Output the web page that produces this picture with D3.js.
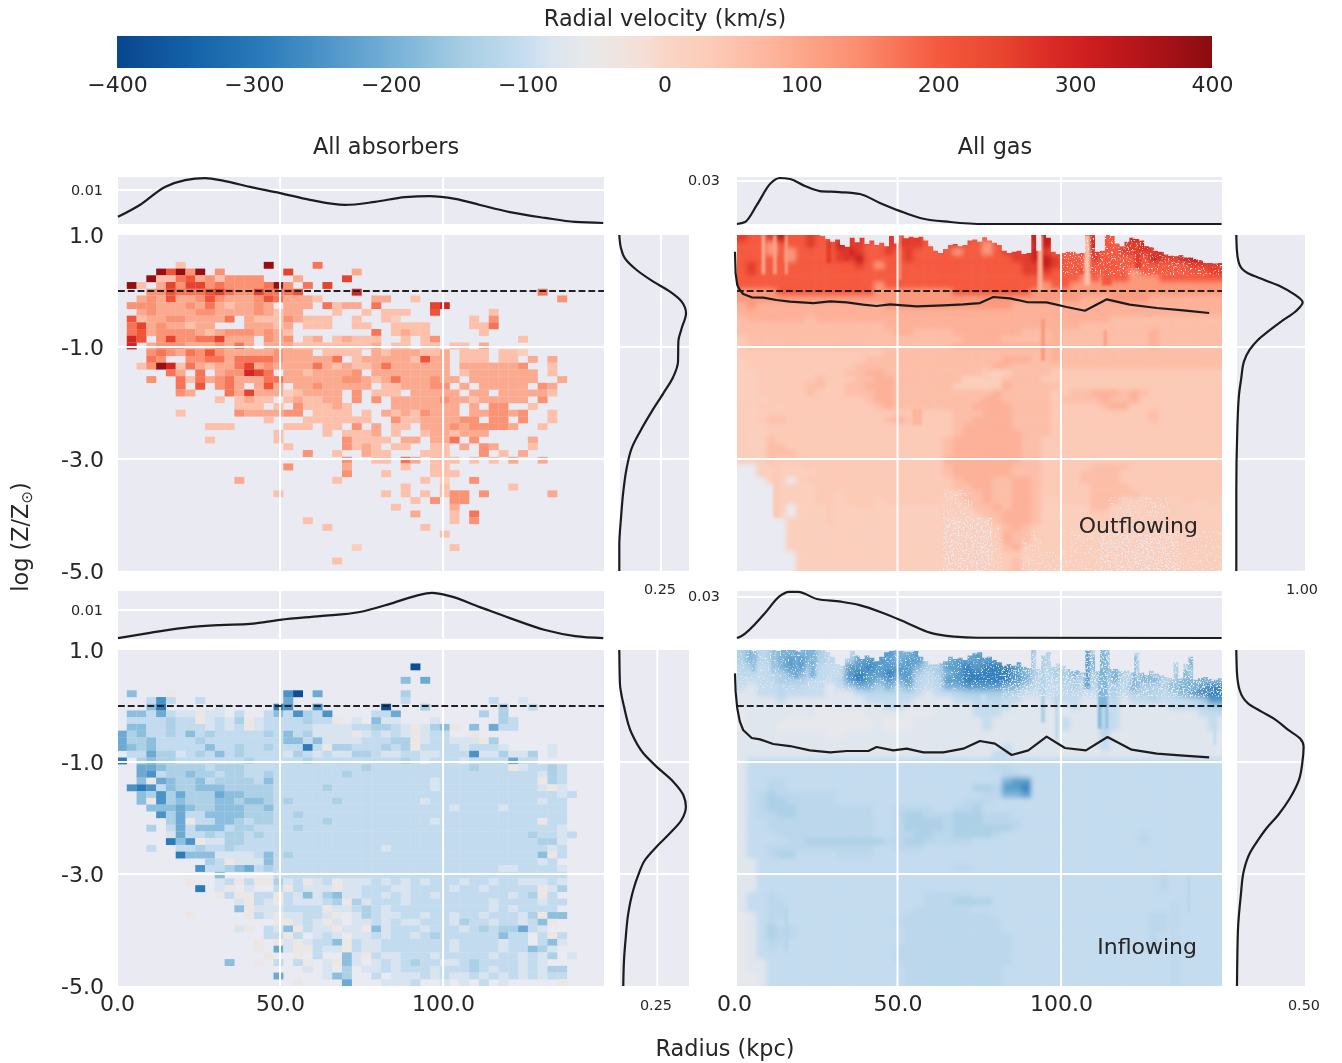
<!DOCTYPE html>
<html><head><meta charset="utf-8">
<script src="https://cdn.jsdelivr.net/npm/d3@7"></script>
<style>html,body{margin:0;padding:0;background:#fff}svg{display:block;font-family:"DejaVu Sans",sans-serif;filter:blur(.35px)}</style>
</head><body><svg id="c" width="1342" height="1063"></svg>
<script>
/* colour bar */
const stopValues=[-400,-343,-294,-245,-196,-148,-116,-100,-83,-60,-45,-15,0,31,77,100,140,200,244,280,309,350,400];
const stopColors=["#08468f","#1563a9","#2b7bba","#4f96c9","#78b2d8","#a6cde4","#bcd8ec","#c8def0","#dae5ef","#e6e8ec","#ece7e5","#f5dfd6","#f9d5c6","#fcccb8","#fdb59d","#fca78b","#fb8f70","#f5593e","#e8472f","#dc2c26","#cf1e1f","#b31419","#8a0c10"];
const colorbarTicks=[-400,-300,-200,-100,0,100,200,300,400];
/* log-Z and radius ticks */
const radiusTicks=[0,50,100];
const metalTicks=[1,-1,-3,-5];
const metalGrid=[-1,-3];
/* velocity (km/s) of each level digit */
const absOutLevels=[null,20,55,95,135,170,215,250,295,385];
const absInLevels=[null,-45,-85,-108,-140,-175,-210,-250,-295,-385];
const gasOutLevels=[null,25,25,22,35,60,85,125,200,260,320];
const gasInLevels=[null,-45,-58,-72,-105,-118,-140,-195,-235,-285];
/* absorber cells: one string per row (3 kpc × 0.12 dex bins), "startColumn:levels" */
const absOutRows=["","","","",
"6:2 15:9 20:5",
"4:96949 10:4 17:7 24:3",
"3:922563424444 18:3 23:7",
"1:920374774544445940507",
"3:4465556754475556 24:8 43:5",
"2:3436334643334653 17:3332 26:33 30:2 45:4",
"1:444333435323343 17:333 21:5233 26:5 32:78",
"2:34333344333344 15:32 17:33 22:2 25:2 27:222 32:6 38:2",
"1:623344333350322 16:2432 20:22 24:2 27:21 36:2 38:4",
"1:573433233 13:3332 17:3 19:222 24:22 28:2222 36:225",
"1:56344443234 12:44 14:3432 26:5 28:232 31:2 37:2",
"1:86 4:474455733 13:3 15:434 19:23 22:2322 26:2 29:2 31:24 41:2",
"1:8 3:344433343 12:53 15:333222222223 28:22 31:22 34:22 37:3",
"3:4543546 10:4333334333 20:0222203233 30:3223022202 40:21",
"3:54 7:445 10:5355554333 20:3350233333 30:2633022202 40:20303",
"2:24982532 10:3357343333 20:5323223533 30:3333033333 40:34002",
"5:53 8:5 10:3448750332 20:3333403333 30:3333023333 40:33302",
"3:4 6:5253 10:4533355333 20:3334432353 30:3343303333 40:333003",
"6:5 8:6 10:4530363033 20:4333330223 30:3344030333 40:33043",
"6:43 10:0537333123 20:3330402220 30:3333303303 40:33332",
"10:2 12:2322 17:2322 21:33 24:4 26:4 28:333334 34:3323 38:3333 43:4",
"12:222 16:2 18:422 21:232 28:3333333 36:3 38:44 42:2",
"6:2 12:433334 18:4 20:2222 25:2 27:3232 31:4333 36:3344 40:34 44:2",
"15:2 19:2222222 28:42233 33:3344 38:44 41:4 44:2",
"9:222 17:222 21:22 24:4 26:3 28:22 31:333433 36:44443 43:2",
"16:2 21:2 23:2223 28:2 31:2332333",
"9:2 16:2 23:42222 29:33 32:335 36:4 42:3",
"17:2 23:4232 28:22 32:22 35:3 37:43 42:2",
"19:4 22:2 25:322 31:222 37:4 39:2 41:3",
"23:4 26:22 29:53 32:222 36:2 38:2 40:3 43:3",
"17:4 23:3 29:2 32:22",
"23:4 27:2 32:222",
"12:3 22:2 31:2 33:1 36:4",
"29:2 33:2 40:2",
"16:2 27:2 29:2 31:2 33:2 34:44 37:4 44:3",
"30:2 32:4 34:44",
"28:2 34:3",
"30:3 34:2 36:5",
"19:2 34:2 36:4",
"21:2 31:2",
"33:2",
"",
"24:1 34:2",
"",
"22:2",
""];
const absInRows=["","",
"30:9","",
"29:506","",
"1:5 5:1 17:79 20:6 29:4",
"3:373 8:3 17:6 29:3 38:3 41:2",
"3:58 10:2 16:87 20:7 27:9 31:4 39:4 42:3",
"1:553632212203003537437 26:336 37:404",
"1:3333433123241233334331 24:2 26:522 32:2 39:43",
"1:5533433323231233333222233443212451 36:5 38:633",
"0:6453343534333334353422221232321233 36:1",
"0:644533334333333335535222233344123322214",
"0:6545333335334334333831443334341333323332 44:2",
"1:336442343534333324323224432233223337224224 44:2",
"0:8 2:45443333333433333433333333343233323333633",
"2:66544443 10:4443333333 20:3333343333 30:3333334333 40:123343",
"2:67344544 10:3443343333 20:3334333333 30:3333333333 40:333243",
"2:51654453 10:4444353333 20:3333333333 30:3323333333 40:333143",
"1:787354455 10:5444443333 20:3433333333 30:3323333333 40:333212",
"2:54746444 10:6554443333 20:3333333333 30:3333333333 40:3333323",
"2:51745444 10:5545543433 20:3343333333 30:3233333333 40:333233",
"3:5556544 10:5554453333 20:3333333333 30:3333233332 40:333333",
"4:746335 10:5554443343 20:3333333333 30:3333333333 40:333333",
"5:46133 10:5543443333 20:3433333333 30:3323333333 40:333133",
"3:4 5:36355 10:5344333343 20:3333333333 30:3333333333 40:333332",
"5:26334 10:3443433333 20:3333333333 30:3333333333 40:33433 45:23",
"5:85712 10:2443333333 20:3333333333 30:3333333333 40:333442",
"3:3 6:3343 10:3433333333 20:3333333233 30:3333333333 40:333323",
"6:8555 10:2222353433 20:3333333333 30:3333333333 40:333513",
"9:4 10:3122253333 20:3333333333 30:3333333333 40:33323",
"8:73 10:3456343333 20:3333333333 30:3333333332 40:23333 45:2",
"10:5 16:3333 20:3333333333 30:3333333333 40:333333",
"7:1 10:2313114231 20:2312223232 30:3233323323 40:322232",
"8:8 10:21 13:2 16:3132 20:2212233322 30:3333233233 40:333124",
"10:1311331325 20:2452233232 30:3323333333 40:23413",
"12:2132 16:1322 20:2341423332 30:3333333323 40:333233",
"12:51222333 20:3122343233 30:3333333323 40:23333",
"7:1 13:1321223 20:3210243223 30:3233233233 40:324155",
"16:11 18:23 20:2120223232 30:2333243323 40:323510",
"12:21 15:32513 20:2212215233 30:3233323434 40:463 43:2",
"15:3313 20:2320223233 30:2343333335 40:33 43:313",
"14:1 16:1212 20:3351322333 30:3333233332 40:33 43:352",
"14:1 16:6211 20:3221322333 30:3333233332 40:33542",
"15:1 18:1 20:3 23:5213223 30:3323333323 40:3232 44:4 46:2",
"11:5 14:1 16:3 18:31 21:21 23:52 26:2323 30:4332234333 40:3232",
"19:2 21:2 23:4 25:22323 30:3323334323 40:3232 44:44",
"16:6 21:2 22:54 26:3 28:22 30:2323223232 40:323233",
"18:1 23:6 27:222 30:3 33:2 35:2 37:3 39:2 45:1"];
/* gas fields: one string per row, one digit per 3 kpc column */
const gasOutRows=[
"9889a88988 9999899998 8999888999 aaa8aa9889 a9999aaaaa",
"8887888988 a998899998 8898878898 aa9889aa89 9a99aaaaaa",
"8887878888 9a98898988 8878878999 a988899889 999aaaaaaa",
"8888878888 99a8888988 8888888899 aa98889888 88a99aaa9a",
"8988888888 8898788888 8888888889 9a98888888 8888889999",
"8988888888 8888888888 8888888889 9988898888 7888888899",
"8888888888 8888888888 8888888888 8888878788 7778888888",
"8888888888 8888788888 8888888888 8788777777 7777777777",
"7777888888 8888777777 7788888888 7777777777 7777777777",
"7777777777 7777777777 7777777777 7777766677 7766666666",
"6766666666 6666677777 7777777766 6666666666 6666666666",
"6666666666 6666666666 6666666666 6666666666 6666666666",
"5666666566 6666666666 6666666666 6666666655 5555555555",
"5555555555 5555566666 6666666666 6666655555 5555555555",
"5555555555 5555556655 5566666665 5565555555 5565555555",
"4555555555 5555555555 5556666555 5565555555 5565555555",
"4555555555 5555555555 5566666666 6665555555 5565555555",
"4444444444 4444455555 5555555555 5565555555 5555555555",
"3444444444 4445555555 5555555666 5565555555 5555555555",
"3444444444 4455555555 5555556655 5555555555 5555555555",
"3344444444 4556655555 5555543355 5544444444 4444444444",
"3344444454 4455665555 5553333555 5444444444 4444444444",
"3344444554 4556665555 5533333655 5554444444 4444444444",
"3344444544 4555665555 5555556555 5544556665 6544444444",
"3334444444 4445665555 5555566555 5545555655 6444444444",
"2344344444 4444565555 5555666655 5544444566 4444444444",
"2334444444 4444444444 4455566655 5544444444 4454444444",
"2345544444 4444456544 4455666655 5544444444 4454444444",
"2334444444 4444444444 4456666655 5544444444 4444444444",
"2334444444 4444444444 4456666665 5544444444 4444444444",
"2335444444 4444444444 4566666665 5444444444 4444444444",
"2335544444 4444444444 4566666665 5444444444 4444444444",
"2335554444 4444444444 4566666665 5444444444 4444444444",
"2235444444 4444444444 4666666665 5444444444 4444444444",
"0023333444 4444444444 4566666655 5444445555 4444444444",
"0013333344 4444444444 4566666655 5444455554 4444444444",
"0003303444 4444444444 4456665566 5444455554 4444444444",
"0000333344 4444444444 4455665566 5444445555 4444444444",
"0000333344 3444444444 4225565566 5444445555 5444444444",
"0000333344 3444344444 4125565566 5324445553 3344344343",
"0000303334 3334333333 3122556566 5333335533 3322223333",
"0000303334 3333333333 3122455666 5332334433 2222222333",
"0000033334 3333333333 3121245666 5233343433 2222222233",
"0000033333 3333333333 3112234565 4223333322 2222112223",
"0000033333 3333333333 3112224655 4223333222 1111111122",
"0000033333 3333333333 3111224655 3222322222 1111111122",
"0000033333 3333333333 3111223563 2223322222 1111111112",
"0000003333 3333333333 3111122443 2223222211 1121111112",
"0000003333 3333333333 3111112452 2223222211 1111111111",
"0000003333 3333333333 3111111451 2223222111 1111111111"];
const gasInRows=[
"6756777765 4477887787 7777888887 6656766576 4766657644",
"6756788765 4688887886 7788888887 5656767576 4766657644",
"5645788654 4889888876 6889899987 5566767676 4766657644",
"5545677554 4898898865 6789999987 6566756676 4767676755",
"4445666544 5898787854 5889999987 5556656575 6775677777",
"4344555443 4677676754 5778888776 5445645565 7666777899",
"3344544443 3345555543 4456666654 4445544565 6665678999",
"3333433333 3334444433 3344555443 3344433453 4454445688",
"3333333323 3333344333 3333444433 3333433443 3333444566",
"2333333322 2223333222 3333444333 3333333443 3333333444",
"2333322222 2222322233 3333343333 3334333543 3333333343",
"2333222222 2222322233 3333343333 3334333543 3333333343",
"3333333332 2333333333 3333333333 3333333533 3333333333",
"3333333333 3333333333 3333333333 3333333433 3333333333",
"3333333333 3333333333 3333333433 3333333433 3333333333",
"3333333333 3333333333 3333334433 3333333333 3333333333",
"3444444444 4444444444 4444444444 4444444444 4444444444",
"3444444444 4444444444 4444445544 4444444444 4444444444",
"3444444444 4444444444 4444444554 4444444444 4444444444",
"3445544444 4444444444 4444444788 4444444444 4444444444",
"3445544444 4444444444 4444665889 4444444444 4444444444",
"3456555555 4444444444 4444455778 4444444444 4444444444",
"3456655555 4444444444 4445554444 4444444444 4444444444",
"3456665555 5555445555 4455644444 4444444444 4444444444",
"3455665555 5555445665 5566655544 4444444444 4444444444",
"3445555555 5555445666 6566655554 4444444444 4444444444",
"3445555555 5555445666 6566666654 4444444444 4444444444",
"3444555555 5555445566 5566665444 4444444444 4544444444",
"3444455666 6666655665 5555444444 4444444444 4544444444",
"3445555555 5555445554 4444444444 4444444444 4444444444",
"3445664444 5555444444 4444444444 4444444444 4444444444",
"3344444444 4444444444 4444444444 4444444444 4444444444",
"3344444444 4444444444 4455444444 4444444444 4444444444",
"3344444444 4444444444 4444444444 4444444444 4445444444",
"3344444444 4444444444 4444444444 4444444444 4445444444",
"3344444444 4444444444 4444444444 4444444444 4445444444",
"3445444444 4444444445 5555444444 4444444444 4444444444",
"3445544444 4444444445 5566664444 4444444444 4444444444",
"3445544444 4444444455 5555444444 4444444444 4444444444",
"2345544444 4444444555 5555554444 4444444444 4455444444",
"2345444444 4444445555 5555555444 4444444444 4455444444",
"2346554444 4444444555 5555555444 4444444444 4455444444",
"2346554444 4444444555 5555555544 4444444444 4454444444",
"2345544444 4444444555 5555555544 4444444444 4454444444",
"2345444444 4444445555 5555555544 4444444444 4454444444",
"2344444444 4444445555 5555555544 4444444444 4444444444",
"2334444444 4444445555 5555555544 4444444444 4444444444",
"2334444444 4444444555 5555555444 4444444444 4444444444",
"2234444444 4444444555 5555555444 4444444444 4444444444",
"2234444444 4444444555 5555555444 4444444444 4444444444"];
/* upper edge of the gas distribution, log Z per 1.5 kpc */
const gasOutTop=[1,1,1,1,1,1,1,1,1,1,1,1,1,1,1,1,1,.98,.93,.88,.92,.82,.79,.95,.87,.95,.84,.9,.82,.86,.8,.98,.85,.99,.94,.97,.95,.97,.9,.8,.72,.68,.75,.82,.84,.8,.82,.9,.92,.88,.96,.9,.86,.82,.72,.68,.7,.72,.66,.68,1,.72,1,.95,.7,.66,.68,.7,.7,.67,.68,1,1,.7,.72,1,.98,.85,.8,.88,.95,.93,.9,.8,.78,.72,.7,.65,.63,.62,.64,.6,.6,.57,.55,.5,.5,.49,.5,.66];
const gasInTop=[1,1,1,.98,1,1,1,1,.98,1,1,1,.98,1,1,1,1,1,.96,.88,.75,.72,.85,.98,.9,.84,.9,.86,.8,.88,.96,.98,.99,.98,.97,.97,.98,.88,.8,.74,.74,.76,.8,.88,.84,.86,.82,.9,.94,.96,.86,.88,.82,.78,.72,.75,.72,.78,.7,.68,1,.66,.9,.96,.7,.76,.72,.66,.62,.64,.6,1,1,.62,1,1,.66,.66,.62,.64,.6,.96,.6,.55,.63,.58,.55,.52,.5,.78,.5,.75,.88,.47,.5,.52,.48,.47,.5,.58];
/* thin vertical features of the gas fields: radius, top log Z, bottom log Z, width (kpc), km/s */
const gasOutStreaks=[[93.6,1,0,1.6,85],[94.5,-.5,-1.25,1.2,125],[108,1,.1,1.8,60],[114,1,.1,3,200],[113.5,-.7,-1,.8,125],[123.6,.9,.4,2,260],[9,1,.3,1,85],[12.5,1,.3,1,100],[16,1,.3,.8,100],[50.8,1,.2,.5,100],[29,.9,.5,1.5,260],[34.5,.75,.55,2,270],[13,-3,-4.05,2,35],[56,-2.1,-2.4,3,75]];
const gasInStreaks=[[108,1,.3,1.6,-230],[112.8,1,-.4,3,-190],[113,0,-.4,1.5,-125],[122.4,.9,.3,1.2,-190],[98.7,.5,-.6,.8,-125],[91,1,.5,.5,-170],[94.5,1,-.3,1.2,-140],[76.3,.2,-.2,1.5,-105],[19,1,.5,1.5,-210],[24,1,.5,2,-190],[6,1,.6,1,-170],[12,1,.6,1,-170],[139,-3,-3.7,.8,-125],[135,-3.5,-5,3,-112],[147,-.3,-.7,.8,-110],[122,-2,-2.9,.8,-105],[109,-1.4,-2.9,.8,-105],[16,-3.6,-4.4,1,-125]];
/* speckled (partly empty) parts of the gas fields: first row, last row, first column, last column, dense? */
const gasOutSpeckle=[[42,49,21,25,1],[38,41,21,23,0],[43,49,26,26,0],[44,49,29,30,0],[44,49,37,44,1],[39,43,38,43,0],[44,49,34,36,0],[44,49,45,49,0],[47,49,31,33,0],[0,5,33,49,0]];
const gasInSpeckle=[[0,6,27,49,1],[0,5,0,26,0]];
/* running mean metallicity of the gas */
const meanOutR=[.3,.5,1,1.8,2.8,5.4,8.97,13,17.1,24.3,29.4,34.5,39.5,43.6,47.7,55.9,64,70.1,75.2,79.3,84.4,89.5,95.6,101.7,107.3,114,121,129.3,137.4,145.3];
const meanOutZ=[.7,.315,.107,.018,-.054,-.113,-.119,-.161,-.191,-.215,-.185,-.203,-.244,-.268,-.238,-.274,-.256,-.238,-.215,-.107,-.131,-.197,-.203,-.286,-.352,-.149,-.244,-.304,-.346,-.393];
const meanInR=[.3,.5,1,1.8,2.8,5.4,7.95,12,17.1,23.2,29.4,34.5,41.1,43.6,48.7,52.8,57.9,64,70.1,75.2,79.8,84.9,90,95.6,101.2,107.6,114.2,121.6,129.3,137.4,145.3];
const meanInZ=[.583,.256,-.042,-.28,-.429,-.572,-.596,-.679,-.715,-.792,-.828,-.804,-.804,-.732,-.792,-.762,-.828,-.828,-.762,-.625,-.673,-.875,-.792,-.548,-.75,-.792,-.554,-.78,-.851,-.887,-.917];
/* radius marginals */
const kdeAR=[.3,7,14.7,20.9,27,33.1,40.8,50,59.2,69.9,79.1,88.3,95.9,103.7,111.3,120.5,131.3,140.5,149.1];
const kdeAD=[.0021,.0056,.0109,.0129,.0135,.0126,.0109,.0091,.0071,.0056,.0065,.0079,.0082,.0074,.0056,.0035,.0018,.0006,.0003];
const kdeBR=[.9,3.4,7,11,14,17.1,21.7,26.2,32.3,38.5,44.6,50.8,56.9,66.1,76.8,149.1];
const kdeBD=[0,.0014,.0133,.0279,.0321,.0314,.0265,.023,.0223,.0209,.0147,.009,.0042,.0014,0,0];
const kdeCR=[.3,10.1,22.4,31.6,40.8,50,62.3,74.5,83.7,91.4,96.6,102.1,111.3,120.5,131.3,140.5,149.1];
const kdeCD=[.0003,.0021,.0041,.0048,.0052,.0066,.0079,.0093,.0121,.0148,.0159,.0148,.011,.0072,.0031,.001,.0003];
const kdeDR=[.9,2.3,9.5,13.8,16.8,19.6,25.4,32.7,38.4,45.6,52.9,59.9,67.3,74.5,149.1];
const kdeDD=[0,.0015,.0183,.0302,.0337,.0337,.0285,.0266,.0241,.0183,.011,.0039,.001,.0002,0];
/* metallicity marginals */
const sideAZ=[1,.762,.583,.375,.167,-.012,-.19,-.398,-.666,-.904,-1.262,-1.53,-1.827,-2.154,-2.512,-2.809,-3.166,-3.583,-4.059,-4.535,-5];
const sideAD=[0,.01,.034,.104,.204,.304,.374,.4,.374,.354,.352,.324,.264,.194,.124,.074,.044,.024,.01,0,0];
const sideBZ=[1,.703,.465,.316,.197,.078,-.059,-.202,-.357,-.547,-.726,-.875,-1.053,-1.262,-1.559,-1.857,-2.512,-3.583,-5];
const sideBD=[0,.01,.048,.169,.41,.652,.845,.966,.87,.652,.459,.314,.193,.111,.072,.039,.014,0,0];
const sideCZ=[1,.405,-.011,-.488,-.845,-1.083,-1.351,-1.589,-1.797,-2.035,-2.273,-2.512,-2.75,-3.017,-3.285,-3.702,-4.178,-4.535,-5];
const sideCD=[0,.004,.031,.081,.158,.245,.355,.421,.438,.409,.333,.245,.169,.125,.092,.059,.041,.031,.026];
const sideDZ=[1,.584,.286,.048,-.101,-.238,-.428,-.577,-.726,-1.024,-1.321,-1.648,-1.946,-2.184,-2.392,-2.63,-2.928,-3.404,-4,-5];
const sideDD=[0,.005,.024,.085,.183,.281,.378,.463,.49,.48,.456,.39,.305,.22,.159,.098,.056,.032,.012,.005];

const BG="#e9eaf2",INK="#262626",FONT=22,TITLE=22.4;
const svg=d3.select("#c");
const color=d3.scaleLinear().domain(stopValues).range(stopColors).clamp(true);
const defs=svg.append("defs");
defs.append("filter").attr("id","soft").attr("x","-5%").attr("y","-5%").attr("width","110%").attr("height","110%")
  .append("feGaussianBlur").attr("stdDeviation",2.4);
defs.append("filter").attr("id","thin").attr("x","-50%").attr("width","200%")
  .append("feGaussianBlur").attr("stdDeviation",.8);
function speckFilter(id,offset){
  const f=defs.append("filter").attr("id",id).attr("x","0").attr("y","0").attr("width","100%").attr("height","100%")
    .attr("color-interpolation-filters","sRGB");
  f.append("feTurbulence").attr("type","fractalNoise").attr("baseFrequency",.6).attr("numOctaves",2).attr("seed",4).attr("result","n");
  f.append("feColorMatrix").attr("in","n").attr("type","matrix")
    .attr("values","0 0 0 0 0  0 0 0 0 0  0 0 0 0 0  0 0 0 6 "+offset).attr("result","m");
  f.append("feComposite").attr("in","SourceGraphic").attr("in2","m").attr("operator","in");
}
speckFilter("speckDense",-3);
speckFilter("speckSparse",-3.5);

/* colour bar */
const cb=d3.scaleLinear().domain([-400,400]).range([117,1212]);
const grad=defs.append("linearGradient").attr("id","cbg").attr("gradientUnits","userSpaceOnUse")
  .attr("x1",cb(-400)).attr("x2",cb(400)).attr("y1",0).attr("y2",0);
grad.selectAll("stop").data(stopValues).join("stop")
  .attr("offset",d=>(d+400)/800).attr("stop-color",d=>color(d));
svg.append("rect").attr("x",cb(-400)).attr("y",36).attr("width",cb(400)-cb(-400)).attr("height",32).attr("fill","url(#cbg)");
const cbAxis=svg.append("g").attr("transform","translate(0,71)")
  .call(d3.axisBottom(cb).tickValues(colorbarTicks).tickSize(0).tickPadding(5).tickFormat(d3.format("d")));
cbAxis.select(".domain").remove();
cbAxis.selectAll("text").attr("font-size",FONT).attr("font-family","DejaVu Sans").attr("fill",INK);

function label(x,y,t,size,anchor){
  return svg.append("text").attr("x",x).attr("y",y).text(t).attr("font-size",size||FONT)
    .attr("text-anchor",anchor||"middle").attr("fill",INK);
}
label(665,26,"Radial velocity (km/s)",TITLE);
label(386,154,"All absorbers",TITLE);
label(995,154,"All gas",TITLE);
label(725,1056,"Radius (kpc)",TITLE);
const yl=svg.append("text").attr("transform","translate(28,537) rotate(-90)").attr("text-anchor","middle")
  .attr("font-size",TITLE).attr("fill",INK);
yl.append("tspan").text("log (Z/Z");
yl.append("tspan").text("⊙").attr("font-size",15).attr("dy",4);
yl.append("tspan").text(")").attr("dy",-4);

const xLeft=d3.scaleLinear().domain([0,149.1]).range([117,603.2]);
const xRight=d3.scaleLinear().domain([0,149.1]).range([734,1221.6]);
const yTop=d3.scaleLinear().domain([1,-5]).range([235,571]);
const yBot=d3.scaleLinear().domain([1,-5]).range([650,986]);
const BIN_R=3,BIN_Z=.12,ROWS=50,COLS=50,GAS_R0=.9;

function parseSparse(rows){
  const out=[];
  rows.forEach((s,r)=>s.split(" ").filter(Boolean).forEach(t=>{
    const [c,ds]=t.split(":");
    [...ds].forEach((d,i)=>{ if(d!=="0") out.push({r,c:+c+i,l:+d}); });
  }));
  return out;
}
function parseDense(rows){
  const out=[];
  rows.forEach((s,r)=>[...s.replace(/ /g,"")].forEach((d,c)=>{
    const l=parseInt(d,36); if(l>0) out.push({r,c,l});
  }));
  return out;
}
function panelRect(x0,x1,y0,y1){
  svg.append("rect").attr("x",x0).attr("y",y0).attr("width",x1-x0).attr("height",y1-y0).attr("fill",BG);
}
let clipN=0;
function addClip(x0,x1,y0,y1){
  const id="clip"+(clipN++);
  defs.append("clipPath").attr("id",id).append("rect").attr("x",x0).attr("y",y0).attr("width",x1-x0).attr("height",y1-y0);
  return "url(#"+id+")";
}
function gridV(xs,vals,y0,y1){
  svg.append("g").selectAll("line").data(vals).join("line")
    .attr("x1",xs).attr("x2",xs).attr("y1",y0).attr("y2",y1).attr("stroke","#fff").attr("stroke-width",2);
}
function gridH(ys,vals,x0,x1){
  svg.append("g").selectAll("line").data(vals).join("line")
    .attr("y1",ys).attr("y2",ys).attr("x1",x0).attr("x2",x1).attr("stroke","#fff").attr("stroke-width",2);
}
function zeroLine(x0,x1,ys){
  svg.append("line").attr("x1",x0).attr("x2",x1).attr("y1",ys(0)).attr("y2",ys(0))
    .attr("stroke","#222").attr("stroke-width",2.2).attr("stroke-dasharray","6.8 3");
}
function curve(pts,xs,ys,kind){
  svg.append("path").datum(pts)
    .attr("d",d3.line().x(d=>xs(d[0])).y(d=>ys(d[1])).curve(kind))
    .attr("fill","none").attr("stroke","#1c1c1f").attr("stroke-width",2.2).attr("stroke-linejoin","round");
}
function absPanel(rows,levels,ys){
  const x0=118,x1=604,y0=ys(1),y1=ys(-5);
  panelRect(x0,x1,y0,y1);
  svg.append("g").attr("clip-path",addClip(x0,x1,y0,y1)).selectAll("rect").data(parseSparse(rows)).join("rect")
    .attr("x",d=>xLeft(d.c*BIN_R)).attr("width",xLeft(BIN_R)-xLeft(0)+.15)
    .attr("y",d=>ys(1-d.r*BIN_Z)).attr("height",ys(-BIN_Z)-ys(0)+.15)
    .attr("fill",d=>color(levels[d.l]));
  gridV(xLeft,[50,100],y0,y1); gridH(ys,metalGrid,x0,x1);
  zeroLine(x0,x1,ys);
}
function gasPanel(rows,levels,tops,ys,meanR,meanZ,streaks,speckles){
  const x0=737,x1=1222,y0=ys(1),y1=ys(-5),pad=10;
  panelRect(x0,x1,y0,y1);
  const wrap=svg.append("g").attr("clip-path",addClip(x0,x1,y0,y1));
  const w=xRight(BIN_R)-xRight(0),h=ys(-BIN_Z)-ys(0);
  wrap.append("g").attr("filter","url(#soft)").selectAll("rect").data(parseDense(rows)).join("rect")
    .attr("x",d=>xRight(GAS_R0+d.c*BIN_R)-(d.c===0?pad:0))
    .attr("width",d=>w+.3+(d.c===0||d.c===COLS-1?pad:0))
    .attr("y",d=>ys(1-d.r*BIN_Z)-(d.r===0?pad:0))
    .attr("height",d=>h+.3+(d.r===0||d.r===ROWS-1?pad:0))
    .attr("fill",d=>color(levels[d.l]));
  wrap.append("g").attr("filter","url(#thin)").selectAll("rect").data(streaks).join("rect")
    .attr("x",d=>xRight(d[0]-d[3]/2)).attr("width",d=>xRight(d[3])-xRight(0))
    .attr("y",d=>ys(d[1])).attr("height",d=>ys(d[2])-ys(d[1]))
    .attr("fill",d=>color(d[4]));
  [[1,"speckDense"],[0,"speckSparse"]].forEach(([dense,id])=>{
    wrap.append("g").attr("filter","url(#"+id+")")
      .selectAll("rect").data(speckles.filter(s=>s[4]===dense)).join("rect")
      .attr("x",d=>xRight(GAS_R0+d[2]*BIN_R)).attr("width",d=>xRight((d[3]-d[2]+1)*BIN_R)-xRight(0))
      .attr("y",d=>ys(1-d[0]*BIN_Z)).attr("height",d=>ys(1-(d[1]+1)*BIN_Z)-ys(1-d[0]*BIN_Z))
      .attr("fill",BG);
  });
  const edge=tops.map((z,i)=>[GAS_R0+i*1.5,z]);
  wrap.append("path").datum(edge).attr("fill",BG)
    .attr("d",d3.area().x(d=>xRight(d[0])).y0(y0-2).y1(d=>ys(d[1])).curve(d3.curveStepAfter));
  gridV(xRight,[50,100],y0,y1); gridH(ys,metalGrid,x0,x1);
  zeroLine(x0,x1,ys);
  curve(d3.zip(meanR,meanZ),xRight,ys,d3.curveLinear);
}
function topMarg(xs,x0,x1,y0,y1,ds,tick,gridVals,R,D){
  panelRect(x0,x1,y0,y1);
  gridV(xs,gridVals,y0,y1);
  gridH(ds,[tick],x0,x1);
  curve(d3.zip(R,D),xs,ds,d3.curveMonotoneX);
}
function sideMarg(ys,x0,x1,ds,tick,Z,D){
  panelRect(x0,x1,ys(1),ys(-5));
  gridH(ys,metalGrid,x0,x1);
  if(ds(tick)<x1-1) gridV(ds,[tick],ys(1),ys(-5));
  curve(d3.zip(D,Z),ds,ys,d3.curveMonotoneY);
}

absPanel(absOutRows,absOutLevels,yTop);
absPanel(absInRows,absInLevels,yBot);
gasPanel(gasOutRows,gasOutLevels,gasOutTop,yTop,meanOutR,meanOutZ,gasOutStreaks,gasOutSpeckle);
gasPanel(gasInRows,gasInLevels,gasInTop,yBot,meanInR,meanInZ,gasInStreaks,gasInSpeckle);

const dA=d3.scaleLinear().domain([0,.01]).range([224,190]);
const dB=d3.scaleLinear().domain([0,.03]).range([224,181]);
const dC=d3.scaleLinear().domain([0,.01]).range([639,610]);
const dD=d3.scaleLinear().domain([0,.03]).range([638,597]);
topMarg(xLeft,118,604,177,224,dA,.01,[50,100],kdeAR,kdeAD);
topMarg(xRight,737,1222,177,224,dB,.03,[50,100],kdeBR,kdeBD);
topMarg(xLeft,118,604,591,639,dC,.01,[50,100],kdeCR,kdeCD);
topMarg(xRight,737,1222,591,639,dD,.03,[50,100],kdeDR,kdeDD);

const sA=d3.scaleLinear().domain([0,.25]).range([619.3,661]);
const sB=d3.scaleLinear().domain([0,1]).range([1236.3,1305]);
const sC=d3.scaleLinear().domain([0,.25]).range([619.3,657.3]);
const sD=d3.scaleLinear().domain([0,.5]).range([1236.3,1305]);
sideMarg(yTop,620,689,sA,.25,sideAZ,sideAD);
sideMarg(yTop,1237,1305,sB,1,sideBZ,sideBD);
sideMarg(yBot,620,689,sC,.25,sideCZ,sideCD);
sideMarg(yBot,1237,1305,sD,.5,sideDZ,sideDD);

/* axes */
function styleAxis(g,size){
  g.select(".domain").remove();
  g.selectAll("text").attr("font-size",size).attr("font-family","DejaVu Sans").attr("fill",INK);
}
[xLeft,xRight].forEach(xs=>{
  svg.append("g").attr("transform","translate(0,986)")
    .call(d3.axisBottom(xs).tickValues(radiusTicks).tickSize(0).tickPadding(9).tickFormat(d=>d.toFixed(1)))
    .call(styleAxis,FONT);
});
[yTop,yBot].forEach(ys=>{
  svg.append("g").attr("transform","translate(104,0)")
    .call(d3.axisLeft(ys).tickValues(metalTicks).tickSize(0).tickPadding(0).tickFormat(d=>d.toFixed(1)))
    .call(styleAxis,FONT);
});
const small=14.4;
label(103,195,"0.01",small,"end");
label(720,185,"0.03",small,"end");
label(103,615,"0.01",small,"end");
label(720,601,"0.03",small,"end");
label(660,594,"0.25",small);
label(1302,594,"1.00",small);
label(656,1010,"0.25",small);
label(1304,1010,"0.50",small);
label(1198,533,"Outflowing",FONT,"end");
label(1197,954,"Inflowing",FONT,"end");
</script></body></html>
